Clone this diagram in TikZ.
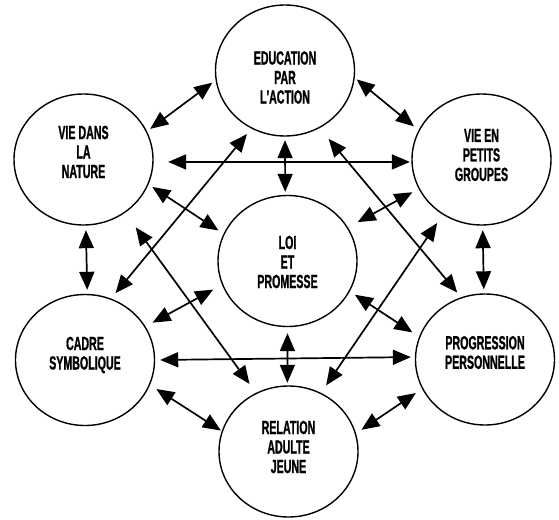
\documentclass[tikz,border=0pt]{standalone}
\usepackage{fontspec}
\newfontfamily\lblfont{Liberation Sans Bold}[FakeStretch=0.56,FakeBold=1]
\usetikzlibrary{shapes.geometric,arrows.meta}
\begin{document}
\begin{tikzpicture}[x=1pt,y=-1pt,
  ell/.style={ellipse, draw, line width=1.4pt, minimum width=139pt, minimum height=131pt, inner sep=0pt},
  lbl/.style={font=\lblfont\fontsize{19}{19.5}\selectfont, align=center, inner sep=0pt},
  arr/.style={line width=1.7pt, {Triangle[length=18pt,width=15pt]}-{Triangle[length=18pt,width=15pt]}}]
\useasboundingbox (0,0) rectangle (559,519);
% circles
\node[ell] (E) at (285,70.5) {};
\node[ell] (N) at (83.5,159.5) {};
\node[ell] (G) at (481.5,159.5) {};
\node[ell] (L) at (287.5,261) {};
\node[ell] (C) at (85,360) {};
\node[ell] (P) at (485,359.5) {};
\node[ell] (R) at (288.5,451.5) {};
% labels
\node[lbl] (Et) at (285,77.5) {EDUCATION\\PAR\\L'ACTION};
\node[lbl] (Nt) at (83.5,152) {VIE DANS\\LA\\NATURE};
\node[lbl] (Gt) at (481.5,155) {VIE EN\\PETITS\\GROUPES};
\node[lbl] (Lt) at (287.5,262) {LOI\\ET\\PROMESSE};
\node[lbl] (Ct) at (85,355) {CADRE\\SYMBOLIQUE};
\node[lbl] (Pt) at (485,352.5) {PROGRESSION\\PERSONNELLE};
\node[lbl] (Rt) at (288.5,447) {RELATION\\ADULTE\\JEUNE};
% arrows
\draw[arr, shorten <=4pt, shorten >=4pt] (E.188.2) -- (N.24.6);
\draw[arr, shorten <=2.5pt, shorten >=6pt] (E.-6.7) -- (G.155.3);
\draw[arr, shorten <=14.5pt, shorten >=1.5pt] (N.-2.4) -- (G.182.8);
\draw[arr, shorten <=3.5pt, shorten >=3pt] (E.270) -- (L.92);
\draw[arr, shorten <=4.5pt, shorten >=6pt] (N.-21.9) -- (L.157.4);
\draw[arr, shorten <=7pt, shorten >=11pt] (G.205.4) -- (L.29.3);
\draw[arr, shorten <=4.5pt, shorten >=4pt] (N.272.8) -- (C.88.4);
\draw[arr, shorten <=4.5pt, shorten >=4pt] (G.271.2) -- (P.91.6);
\draw[arr, shorten <=8pt, shorten >=10pt] (C.29.6) -- (L.200);
\draw[arr, shorten <=6pt, shorten >=8pt] (L.334.6) -- (P.161.4);
\draw[arr, shorten <=5pt, shorten >=4pt] (C.0) -- (P.178.8);
\draw[arr, shorten <=6pt, shorten >=2.5pt] (L.270) -- (R.91.3);
\draw[arr, shorten <=7.5pt, shorten >=1pt] (C.339.4) -- (R.163.9);
\draw[arr, shorten <=7.5pt, shorten >=6.5pt] (P.205.2) -- (R.15.6);
\draw[arr, shorten <=7pt, shorten >=7pt] (C.67.6) -- (E.240.2);
\draw[arr, shorten <=18pt, shorten >=11pt] (N.308.4) -- (R.119.3);
\draw[arr, shorten <=14pt, shorten >=6pt] (E.301.1) -- (P.111.8);
\draw[arr, shorten <=10pt, shorten >=9pt] (G.235.6) -- (R.61.2);
\end{tikzpicture}
\end{document}
